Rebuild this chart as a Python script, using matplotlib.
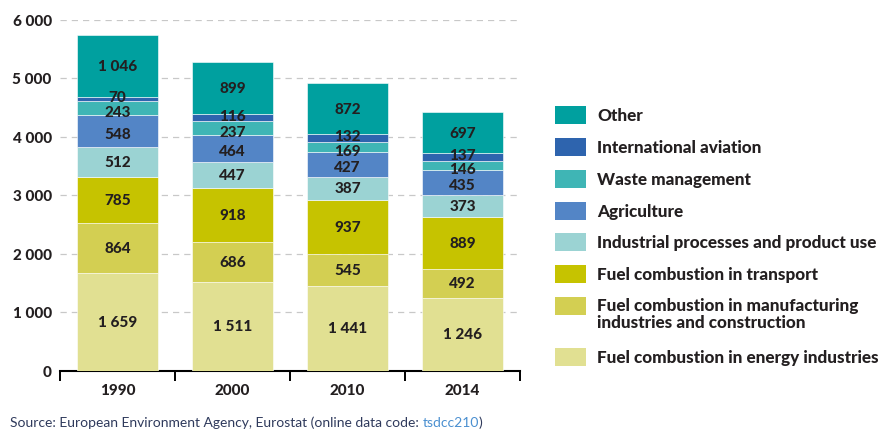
import numpy as np
import matplotlib
matplotlib.use("Agg")
import matplotlib.pyplot as plt
import matplotlib.patches as mpatches

plt.rcParams["font.family"] = ["Lato", "DejaVu Sans"]

YEARS = ["1990", "2000", "2010", "2014"]

# bottom to top
SERIES = [
    "Fuel combustion in energy industries",
    "Fuel combustion in manufacturing\nindustries and construction",
    "Fuel combustion in transport",
    "Industrial processes and product use",
    "Agriculture",
    "Waste management",
    "International aviation",
    "Other",
]
ENERGY        = [1659, 1511, 1441, 1246]
MANUFACTURING = [864, 686, 545, 492]
TRANSPORT     = [785, 918, 937, 889]
INDUSTRIAL    = [512, 447, 387, 373]
AGRICULTURE   = [548, 464, 427, 435]
WASTE         = [243, 237, 169, 146]
AVIATION      = [70, 116, 132, 137]
OTHER         = [1046, 899, 872, 697]

VALUES = [ENERGY, MANUFACTURING, TRANSPORT, INDUSTRIAL,
          AGRICULTURE, WASTE, AVIATION, OTHER]

COLORS = ["#e1e092", "#d3cf52", "#c6c300", "#9bd3d3",
          "#5385c6", "#3fb5b5", "#2e64ae", "#00a09f"]

# small vertical nudges (points) so the thin-segment labels don't pile up
NUDGE = [0, 0, 0, 0, -2, -3, 1.5, 0]

TXT = "#231f20"
W = 900


def fmt(v):
    return f"{v:,}".replace(",", " ")


fig = plt.figure(figsize=(8.91, 4.31), dpi=100)
ax = fig.add_axes([60 / 891, 1 - 371.5 / 431, 460 / 891, 351 / 431])

x = np.arange(len(YEARS))
bottom = np.zeros(len(YEARS))
for vals, col, dy in zip(VALUES, COLORS, NUDGE):
    vals = np.array(vals)
    ax.bar(x, vals, width=0.71, bottom=bottom, color=col,
           edgecolor="white", linewidth=0.4, zorder=3)
    for xi, b, v in zip(x, bottom, vals):
        ax.annotate(fmt(v), xy=(xi, b + v / 2), xytext=(0, dy),
                    textcoords="offset points", ha="center", va="center",
                    fontsize=11, fontweight=W, color=TXT, zorder=4)
    bottom += vals

ax.set_xlim(-0.5, 3.5)
ax.set_ylim(0, 6000)
ax.set_yticks(np.arange(0, 6001, 1000))
ax.set_yticklabels([fmt(v) for v in range(0, 6001, 1000)],
                   fontsize=11, fontweight=W, color=TXT)
ax.yaxis.grid(True, linestyle=(0, (5, 4)), color="#c8c8c8", linewidth=0.9, zorder=0)
ax.tick_params(axis="y", length=0, pad=6)

ax.set_xticks(x)
ax.set_xticklabels(YEARS, fontsize=11, fontweight=W, color=TXT)
ax.set_xticks(np.arange(-0.5, 3.6, 1), minor=True)
ax.tick_params(axis="x", which="major", length=0, pad=9)
ax.tick_params(axis="x", which="minor", length=7, width=1.4, color="black", direction="out")

for s in ("top", "right", "left"):
    ax.spines[s].set_visible(False)
ax.spines["bottom"].set_linewidth(1.5)
ax.spines["bottom"].set_color("black")

# legend drawn top to bottom, matching the picture
rows_y = [116, 148, 180, 212, 243, 275, 307, 358]
for name, col, yp in zip(SERIES[::-1], COLORS[::-1], rows_y):
    fig.patches.append(mpatches.Rectangle(
        (555 / 891, 1 - (yp + 9) / 431), 31 / 891, 18 / 431,
        transform=fig.transFigure, facecolor=col, edgecolor="none"))
    two = "\n" in name
    fig.text(597 / 891, 1 - (yp - 9 if two else yp) / 431, name,
             ha="left", va="top" if two else "center",
             fontsize=12.3, fontweight=W, color=TXT, linespacing=1.1)

src = fig.text(10 / 891, 1 - 423 / 431,
               "Source: European Environment Agency, Eurostat (online data code: ",
               fontsize=10, color="#2f3a5c", va="center")
link = ax.annotate("tsdcc210", xy=(1, 0), xycoords=src, va="bottom",
                   fontsize=10, color="#4a8fd0", annotation_clip=False)
ax.annotate(")", xy=(1, 0), xycoords=link, va="bottom",
            fontsize=10, color="#2f3a5c", annotation_clip=False)

fig.savefig("out.png", dpi=100)
